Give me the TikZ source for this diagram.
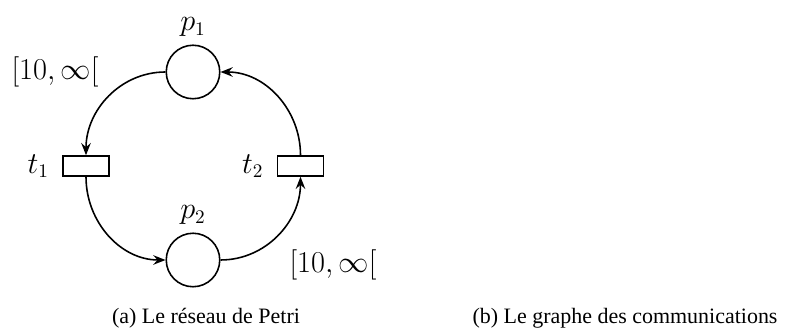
\documentclass[tikz,border=0pt]{standalone}
\usepackage{amsmath,amssymb}
\usepackage[no-math]{fontspec}
\newfontfamily\capfont{Liberation Serif}
\usetikzlibrary{arrows.meta,positioning}

\tikzset{
  place/.style={circle,draw,line width=0.9pt,minimum size=1.07cm,inner sep=0pt},
  transition/.style={rectangle,draw,line width=0.9pt,minimum width=0.92cm,minimum height=0.40cm,inner sep=0pt},
  lbl/.style={font=\fontsize{16}{19}\selectfont},
  caption/.style={font=\capfont\fontsize{12.5}{15}\selectfont},
  arc/.style={->,line width=0.9pt}
}

\begin{document}
\begin{tikzpicture}[>={Stealth[length=7pt,width=5.5pt,inset=2.5pt]}]
  \useasboundingbox (0,0) rectangle (16,6.62);
  % places and transitions
  \node[place,label={[lbl,label distance=1pt]above:$p_1$}] (p1) at (3.86,5.18) {};
  \node[place,label={[lbl,label distance=1pt]above:$p_2$}] (p2) at (3.86,1.42) {};
  \node[transition,label={[lbl,label distance=4pt]left:$t_1$}] (t1) at (1.72,3.30) {};
  \node[transition,label={[lbl,label distance=4pt]left:$t_2$}] (t2) at (6.01,3.30) {};
  % intervals
  \node[lbl] (i1) at (1.10,5.18) {$[10,\infty[$};
  \node[lbl] (i2) at (6.66,1.32) {$[10,\infty[$};
  % arcs
  \draw[arc] (p1.west) to[out=180,in=90] (t1.north);
  \draw[arc] (t1.south) to[out=-90,in=180] (p2.west);
  \draw[arc] (p2.east) to[out=0,in=-90] (t2.south);
  \draw[arc] (t2.north) to[out=90,in=0] (p1.east);
  % captions
  \node[caption] (capa) at (4.12,0.26) {(a) Le réseau de Petri};
  \node[caption] (capb) at (12.5,0.26) {(b) Le graphe des communications};
\end{tikzpicture}
\end{document}
